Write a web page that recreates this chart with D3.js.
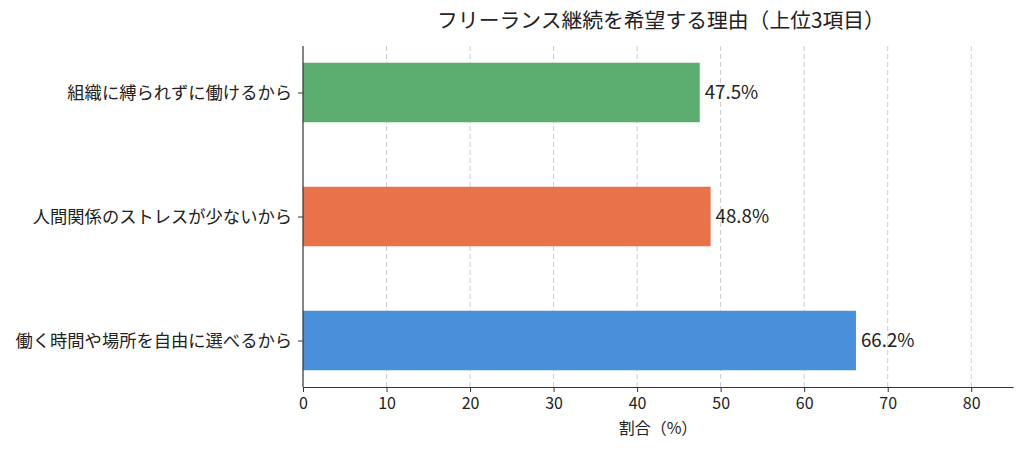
<!DOCTYPE html>
<html><head><meta charset="utf-8">
<script src="https://cdn.jsdelivr.net/npm/d3@7"></script>
<style>body{margin:0;background:#fff}svg{display:block}text{font-family:"Noto Sans CJK JP","Noto Sans",sans-serif}</style>
</head><body><svg id="c" width="1024" height="450"></svg>
<script>
const categories = ["組織に縛られずに働けるから","人間関係のストレスが少ないから","働く時間や場所を自由に選べるから"];
const values = [47.5, 48.8, 66.2];
const colors = ["#5bae6f","#e8734b","#4a8fd9"];
const xTicks = [0,10,20,30,40,50,60,70,80];
const title = "フリーランス継続を希望する理由（上位3項目）";
const xLabel = "割合（%）";

const svg = d3.select("#c");
const L = 303, R = 1013, T = 46, B = 387;
const x = d3.scaleLinear().domain([0,85]).range([L,R]);
const y = d3.scaleLinear().domain([-0.375, 2.375]).range([T,B]);
const bh = 0.48;
const ff = '"Noto Sans CJK JP","Noto Sans",sans-serif';

// grid
svg.append("g").selectAll("line").data(xTicks.slice(1)).join("line")
  .attr("x1",d=>x(d)).attr("x2",d=>x(d)).attr("y1",T).attr("y2",B)
  .attr("stroke","#cccccc").attr("stroke-width",1).attr("stroke-dasharray","5,3");

// bars
svg.append("g").selectAll("rect").data(values).join("rect")
  .attr("x",x(0)).attr("y",(d,i)=>y(i-bh/2)).attr("width",d=>x(d)-x(0))
  .attr("height",(d,i)=>y(i+bh/2)-y(i-bh/2)).attr("fill",(d,i)=>colors[i]);

// value labels
svg.append("g").selectAll("text").data(values).join("text")
  .attr("x",d=>x(d)+5).attr("y",(d,i)=>y(i)).attr("dy","0.35em")
  .attr("font-size",18.7).attr("fill","#222").text(d=>d.toFixed(1)+"%");

// axes
const xa = svg.append("g").attr("transform",`translate(0,${B})`)
  .call(d3.axisBottom(x).tickValues(xTicks).tickSize(5).tickPadding(6).tickSizeOuter(0));
xa.select(".domain").attr("stroke","#333").attr("stroke-width",1.2);
xa.selectAll(".tick line").attr("stroke","#333");
xa.selectAll("text").attr("font-size",16).attr("fill","#222").style("font-family",ff);

const ya = svg.append("g").attr("transform",`translate(${L},0)`)
  .call(d3.axisLeft(y).tickValues([0,1,2]).tickFormat(i=>categories[i]).tickSize(5).tickPadding(6).tickSizeOuter(0));
ya.select(".domain").attr("stroke","#333").attr("stroke-width",1.2).attr("d",`M0,${T}V${B}`);
ya.selectAll(".tick line").attr("stroke","#333");
ya.selectAll("text").attr("font-size",17.3).attr("fill","#222").style("font-family",ff);

svg.append("text").attr("x",(L+R)/2+3).attr("y",28).attr("text-anchor","middle")
  .attr("font-size",20.8).attr("fill","#222").text(title);
svg.append("text").attr("x",(L+R)/2).attr("y",434).attr("text-anchor","middle")
  .attr("font-size",16).attr("fill","#222").text(xLabel);
</script></body></html>
